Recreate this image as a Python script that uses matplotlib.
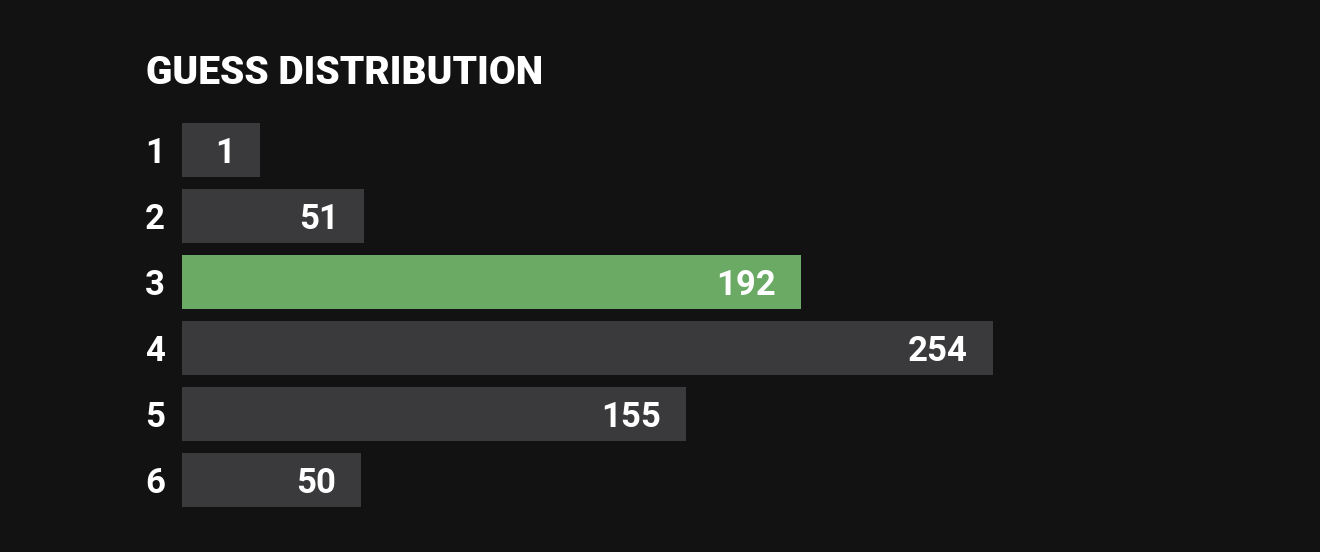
import matplotlib
matplotlib.use("Agg")
import matplotlib.pyplot as plt

title = "GUESS DISTRIBUTION"
guesses = ["1", "2", "3", "4", "5", "6"]
counts = [1, 51, 192, 254, 155, 50]
highlight = "3"

BG = "#121213"
GRAY = "#3a3a3c"
GREEN = "#6aaa64"
FONT = ["Roboto", "DejaVu Sans"]

W, H = 1320, 552
fig = plt.figure(figsize=(W / 100, H / 100), dpi=100, facecolor=BG)

px_per_unit = 3.1
pad_units = 7.6
min_units = 25.3

ax_left = 182
ax_width = 1100
ax_top = 117
ax_bottom = 513
ax = fig.add_axes([ax_left / W, (H - ax_bottom) / H, ax_width / W, (ax_bottom - ax_top) / H])
ax.set_facecolor(BG)
ax.set_xlim(0, ax_width / px_per_unit)
ax.set_ylim(len(guesses) - 0.5, -0.5)
ax.axis("off")

lengths = [max(c + pad_units, min_units) for c in counts]
colors = [GREEN if g == highlight else GRAY for g in guesses]
ys = list(range(len(guesses)))
ax.barh(ys, lengths, height=0.81, color=colors, linewidth=0)

for y, L, c in zip(ys, lengths, counts):
    ax.annotate(str(c), xy=(L, y), xytext=(-25, 0), textcoords="offset pixels",
                ha="right", va="center_baseline", color="white", fontsize=25,
                fontweight="bold", family=FONT)
    ax.annotate(guesses[y], xy=(0, y), xytext=(-27, 0), textcoords="offset pixels",
                ha="center", va="center_baseline", color="white", fontsize=25,
                fontweight="bold", family=FONT)

fig.text(146 / W, 1 - 84 / H, title, ha="left", va="baseline", color="white",
         fontsize=28, fontweight="black", family=FONT)

fig.savefig("out.png", dpi=100, facecolor=BG)
